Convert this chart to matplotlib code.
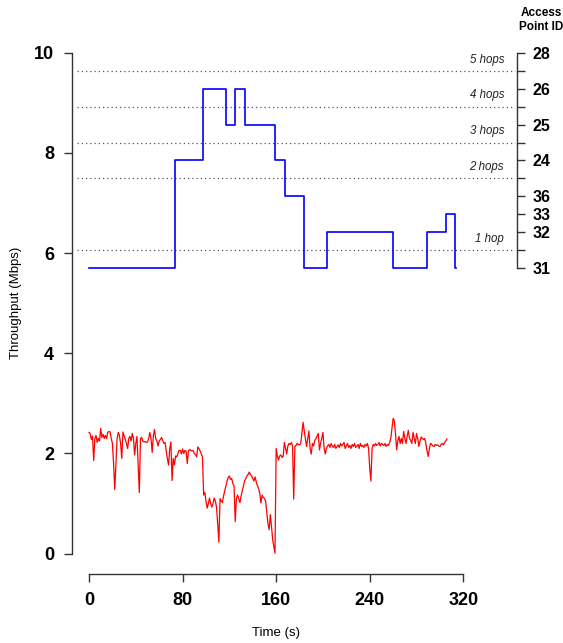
# ---------------------------------------------------------------------
#  Importando bibliotecas
# ---------------------------------------------------------------------

import numpy as np
import matplotlib
matplotlib.use('Agg')
import matplotlib.pyplot as plt

plt.rcParams['font.family'] = ['Liberation Sans', 'DejaVu Sans']

# ---------------------------------------------------------------------
#  Dados
# ---------------------------------------------------------------------

# Throughput (Mbps), uma amostra por segundo (0 .. 306 s)
tempo = np.arange(0, 307)
throughput = [
    2.42, 2.40, 2.28, 2.35, 1.86, 2.30, 2.36, 2.22, 2.30, 2.25,
    2.50, 2.32, 2.38, 2.30, 2.36, 2.30, 2.42, 2.44, 2.43, 2.30,
    2.20, 1.80, 1.28, 1.80, 2.30, 2.42, 2.36, 2.20, 1.90, 2.43,
    2.35, 2.28, 2.20, 2.10, 2.30, 2.34, 2.25, 2.40, 2.30, 1.97,
    2.20, 2.34, 1.80, 1.22, 2.30, 2.32, 2.25, 2.23, 2.24, 2.22,
    2.23, 2.30, 2.42, 2.30, 2.02, 2.35, 2.48, 2.30, 2.25, 2.15,
    2.25, 2.28, 2.32, 2.26, 2.20, 2.22, 2.05, 1.90, 1.77, 2.10,
    2.23, 1.46, 1.90, 1.77, 1.95, 1.93, 2.00, 2.06, 2.06, 1.99,
    2.09, 2.00, 2.06, 2.05, 1.80, 2.05, 2.08, 2.06, 2.05, 2.06,
    2.00, 1.98, 1.93, 2.13, 2.10, 2.05, 1.99, 1.93, 1.17, 1.22,
    1.05, 0.91, 1.00, 1.11, 1.00, 0.93, 1.00, 1.11, 1.05, 0.93,
    0.60, 0.23, 1.10, 1.05, 1.02, 1.15, 1.25, 1.35, 1.45, 1.52,
    1.55, 1.48, 1.50, 1.40, 1.35, 0.64, 1.10, 1.17, 1.10, 1.02,
    1.15, 1.25, 1.35, 1.45, 1.50, 1.55, 1.58, 1.63, 1.58, 1.55,
    1.50, 1.45, 1.53, 1.43, 1.35, 1.30, 1.20, 1.01, 1.17, 1.12,
    1.10, 1.05, 0.81, 0.60, 0.48, 0.78, 0.55, 0.28, 0.15, 0.01,
    2.10, 1.95, 1.87, 1.95, 1.97, 1.92, 1.94, 2.22, 2.10, 1.99,
    2.15, 2.20, 2.18, 2.22, 2.15, 1.09, 2.14, 2.16, 2.20, 2.18,
    2.17, 2.20, 2.40, 2.62, 2.45, 2.29, 2.14, 2.30, 2.45, 2.10,
    1.99, 2.20, 2.15, 2.26, 2.30, 2.35, 2.40, 2.07, 2.20, 2.30,
    2.42, 2.10, 1.99, 2.10, 2.15, 2.18, 2.12, 2.20, 2.15, 2.12,
    2.18, 2.10, 2.14, 2.17, 2.12, 2.20, 2.15, 2.18, 2.22, 2.10,
    2.15, 2.20, 2.12, 2.16, 2.10, 2.18, 2.14, 2.20, 2.12, 2.15,
    2.18, 2.10, 2.20, 2.14, 2.16, 2.12, 2.18, 2.15, 2.20, 2.10,
    1.70, 1.45, 2.10, 2.18, 2.15, 2.20, 2.16, 2.18, 2.22, 2.15,
    2.20, 2.18, 2.16, 2.20, 2.14, 2.18, 2.16, 2.22, 2.30, 2.50,
    2.70, 2.65, 2.40, 2.07, 2.25, 2.34, 2.20, 2.30, 2.20, 2.44,
    2.30, 2.20, 2.35, 2.46, 2.30, 2.26, 2.20, 2.42, 2.30, 2.20,
    2.40, 2.30, 2.14, 2.25, 2.33, 2.30, 2.28, 2.30, 2.20, 2.05,
    1.94, 2.10, 2.20, 2.18, 2.15, 2.14, 2.18, 2.16, 2.17, 2.15,
    2.14, 2.18, 2.20, 2.17, 2.22, 2.25, 2.29,
]

# Access point associado (troca nos instantes abaixo)
tempo_troca = [0, 73.8, 97.2, 116.9, 125.1, 133.4, 159.3, 167.3,
               183.6, 203.2, 260.2, 289.2, 305.2, 312.6, 314.0]
access_point = [31, 24, 26, 25, 26, 25, 24, 36, 31, 32, 31, 32, 33, 31, 31]

# Eixo direito: ordem dos APs e linhas de numero de saltos
ordem_eixo = ['31', '1 hop', '32', '33', '36', '2 hops', '24', '3 hops',
              '25', '4 hops', '26', '5 hops', '28']
rotulos_hops = ['1 hop', '2 hops', '3 hops', '4 hops', '5 hops']

# ---------------------------------------------------------------------
#  Configuracao do grafico
# ---------------------------------------------------------------------

fig = plt.figure(figsize=(5.63, 6.43), dpi=100)
ax = fig.add_axes([0.1284, 0.1078, 0.7899, 0.8413])

# mapeamento do eixo direito (indice) para a escala do throughput
base_ap = 5.70
passo_ap = (10.0 - base_ap) / 12
ylim_esq = (-0.4, 10.4)
xlim = (-14.3, 365.9)

ax.set_xlim(xlim)
ax.set_ylim(ylim_esq)

ax2 = ax.twinx()
ax2.set_ylim((ylim_esq[0] - base_ap) / passo_ap, (ylim_esq[1] - base_ap) / passo_ap)
ax2.set_xlim(xlim)

# Linhas pontilhadas dos saltos
for rot in rotulos_hops:
    pos = ordem_eixo.index(rot)
    ax2.plot([-10.3, 364], [pos, pos], color='#555555', linewidth=0.9,
             dashes=(1, 2.4), clip_on=False)
    ax2.text(354.8, pos + 0.62, rot, ha='right', va='center',
             fontsize=8.3, style='italic', color='#222222')

# Throughput (vermelho)
ax.plot(tempo, throughput, color='#ff0000', linewidth=0.9)

# Access point (azul, degraus)
pos_ap = [ordem_eixo.index(str(a)) for a in access_point]
ax2.step(tempo_troca, pos_ap, where='post', color='#0000ff', linewidth=1.2)

# Eixos no estilo R
for lado in ['top', 'right']:
    ax.spines[lado].set_visible(False)
ax.spines['left'].set_bounds(0, 10)
ax.spines['bottom'].set_bounds(0, 320)
for lado in ['top', 'left', 'bottom']:
    ax2.spines[lado].set_visible(False)
ax2.spines['right'].set_bounds(0, 12)
for sp in ['left', 'bottom']:
    ax.spines[sp].set_color('#333333')
    ax.spines[sp].set_linewidth(1.0)
ax2.spines['right'].set_color('#333333')
ax2.spines['right'].set_linewidth(1.0)

ax.set_xticks([0, 80, 160, 240, 320])
ax.set_yticks([0, 2, 4, 6, 8, 10])
ax.tick_params(axis='both', length=6, width=1.0, color='#333333', pad=7,
               labelsize=13)
for lbl in ax.get_xticklabels() + ax.get_yticklabels():
    lbl.set_fontweight('bold')

ax2.set_yticks(range(len(ordem_eixo)))
ax2.set_yticklabels([r if 'hop' not in r else '' for r in ordem_eixo])
ax2.tick_params(axis='y', length=6, width=1.0, color='#333333', pad=5,
                labelsize=11.5)
for lbl in ax2.get_yticklabels():
    lbl.set_fontweight('bold')

# Titulos dos eixos
fig.text(16 / 563, 1 - 303 / 643, 'Throughput (Mbps)', rotation=90,
         ha='center', va='center', fontsize=9.5)
fig.text(276 / 563, 1 - 633 / 643, 'Time (s)', ha='center', va='center',
         fontsize=9.5)
fig.text(541 / 563, 1 - 20 / 643, 'Access\nPoint ID', ha='center', va='center',
         fontsize=8.5, fontweight='bold', linespacing=1.15)

plt.savefig('out.png', dpi=100)
plt.close()
